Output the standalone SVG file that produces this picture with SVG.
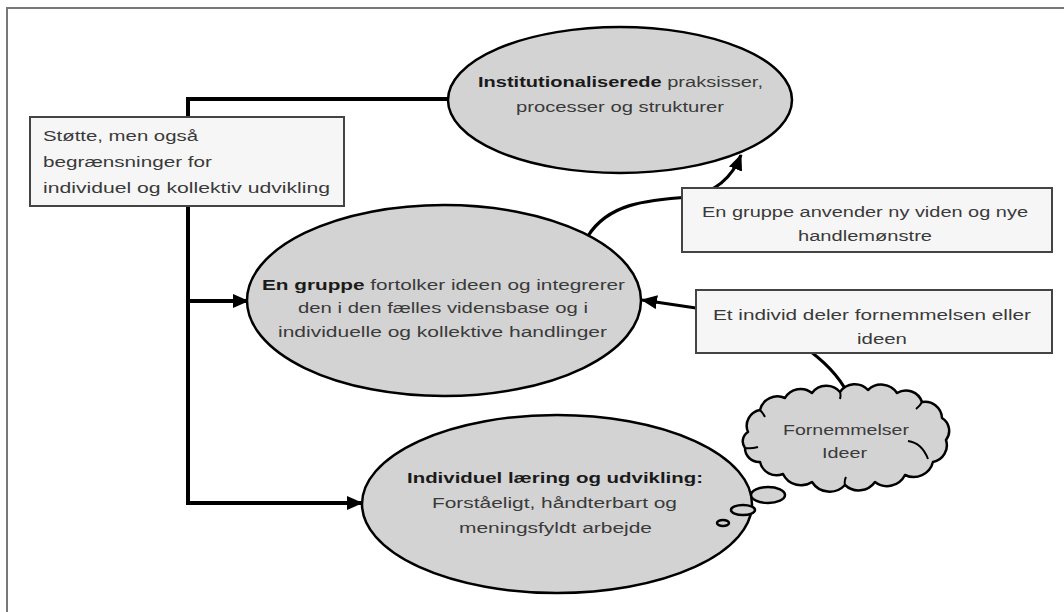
<svg xmlns="http://www.w3.org/2000/svg" width="1064" height="612" viewBox="0 0 1064 612">
<style>
.ell{fill:#d3d3d3;stroke:#000;stroke-width:2.5}
.box{fill:#f6f6f6;stroke:#444;stroke-width:2}
.t{font-family:"Liberation Sans",Arial,sans-serif;font-size:15.5px;fill:#3a3a3a}
.b{font-weight:bold;fill:#1a1a1a}
.con{fill:none;stroke:#000;stroke-width:4}
.cur{fill:none;stroke:#000;stroke-width:3.2}
</style>
<defs>
<marker id="ah" viewBox="0 0 16 14" refX="15" refY="7" markerWidth="16" markerHeight="14" markerUnits="userSpaceOnUse" orient="auto">
<path d="M0,0 L16,7 L0,14 Z" fill="#000"/>
</marker>
</defs>
<rect width="1064" height="612" fill="#fff"/>
<path d="M7,612 V8 H1064" fill="none" stroke="#777" stroke-width="2"/>

<g id="connectors">
<path class="con" d="M451,99 H188 V503 H362" marker-end="url(#ah)"/>
<path class="con" d="M188,301 H248" marker-end="url(#ah)"/>
<path class="cur" d="M588,236 C608,204 645,200 690,197 C715,192 732,178 741,155" marker-end="url(#ah)"/>
<path class="cur" d="M848,394 C835,368 790,320 696,308 L642,300" marker-end="url(#ah)"/>
</g>

<g id="node-support">
<rect class="box" x="30" y="117" width="314" height="89"/>
<text class="t" x="43" y="141" textLength="155" lengthAdjust="spacingAndGlyphs">Støtte, men også</text>
<text class="t" x="43" y="167" textLength="169" lengthAdjust="spacingAndGlyphs">begrænsninger for</text>
<text class="t" x="43" y="193" textLength="287" lengthAdjust="spacingAndGlyphs">individuel og kollektiv udvikling</text>
</g>

<g id="node-institution">
<ellipse class="ell" cx="620" cy="100" rx="172" ry="73"/>
<text class="t" x="478" y="87" textLength="285" lengthAdjust="spacingAndGlyphs"><tspan class="b">Institutionaliserede</tspan> praksisser,</text>
<text class="t" x="516" y="112" textLength="208" lengthAdjust="spacingAndGlyphs">processer og strukturer</text>
</g>

<g id="node-group">
<ellipse class="ell" cx="444" cy="300.5" rx="197" ry="95.5"/>
<text class="t" x="262" y="290" textLength="363" lengthAdjust="spacingAndGlyphs"><tspan class="b">En gruppe</tspan> fortolker ideen og integrerer</text>
<text class="t" x="298" y="313" textLength="290" lengthAdjust="spacingAndGlyphs">den i den fælles vidensbase og i</text>
<text class="t" x="278" y="337" textLength="329" lengthAdjust="spacingAndGlyphs">individuelle og kollektive handlinger</text>
</g>

<g id="node-individual">
<ellipse class="ell" cx="557" cy="504" rx="195" ry="89"/>
<text class="t" x="407" y="483" textLength="296" lengthAdjust="spacingAndGlyphs"><tspan class="b">Individuel læring og udvikling:</tspan></text>
<text class="t" x="432" y="508" textLength="245" lengthAdjust="spacingAndGlyphs">Forståeligt, håndterbart og</text>
<text class="t" x="459" y="533" textLength="193" lengthAdjust="spacingAndGlyphs">meningsfyldt arbejde</text>
</g>

<g id="node-apply">
<rect class="box" x="682" y="188" width="370" height="64"/>
<text class="t" x="702" y="217" textLength="326" lengthAdjust="spacingAndGlyphs">En gruppe anvender ny viden og nye</text>
<text class="t" x="798" y="241" textLength="134" lengthAdjust="spacingAndGlyphs">handlemønstre</text>
</g>

<g id="node-share">
<rect class="box" x="696" y="290" width="356" height="63"/>
<text class="t" x="713" y="320" textLength="318" lengthAdjust="spacingAndGlyphs">Et individ deler fornemmelsen eller</text>
<text class="t" x="857" y="344" textLength="50" lengthAdjust="spacingAndGlyphs">ideen</text>
</g>

<g id="node-cloud">
<path d="M748,432 A16,16 0 0 1 760,410 A18,18 0 0 1 785,398 A18,18 0 0 1 812,393 A18,18 0 0 1 840,392 A18,18 0 0 1 868,390 A19,19 0 0 1 897,393 A17,17 0 0 1 922,402 A17,17 0 0 1 942,418 A15,15 0 0 1 946,440 A17,17 0 0 1 933,462 A20,20 0 0 1 905,475 A20,20 0 0 1 875,482 A20,20 0 0 1 845,485 A21,21 0 0 1 812,482 A20,20 0 0 1 783,474 A17,17 0 0 1 760,462 A14,14 0 0 1 745,448 A11,11 0 0 1 748,432 Z" fill="#d3d3d3" stroke="#000" stroke-width="2.5" stroke-linejoin="round"/>
<path d="M745,448 q6,1 13,-1 M760,410 q3,3 5,7 M840,392 q1,3 0,7 M922,402 q-2,4 -6,7 M908,441 q14,2 20,18 M845,485 q-1,-4 1,-8" fill="none" stroke="#000" stroke-width="2"/>
<text class="t" x="783" y="435" textLength="126" lengthAdjust="spacingAndGlyphs">Fornemmelser</text>
<text class="t" x="822" y="458" textLength="45" lengthAdjust="spacingAndGlyphs">Ideer</text>
</g>

<g id="node-bubbles">
<ellipse class="ell" cx="768" cy="495" rx="17" ry="8"/>
<ellipse class="ell" cx="743" cy="510" rx="12" ry="5"/>
<ellipse class="ell" cx="723" cy="523" rx="6" ry="3"/>
</g>
</svg>
